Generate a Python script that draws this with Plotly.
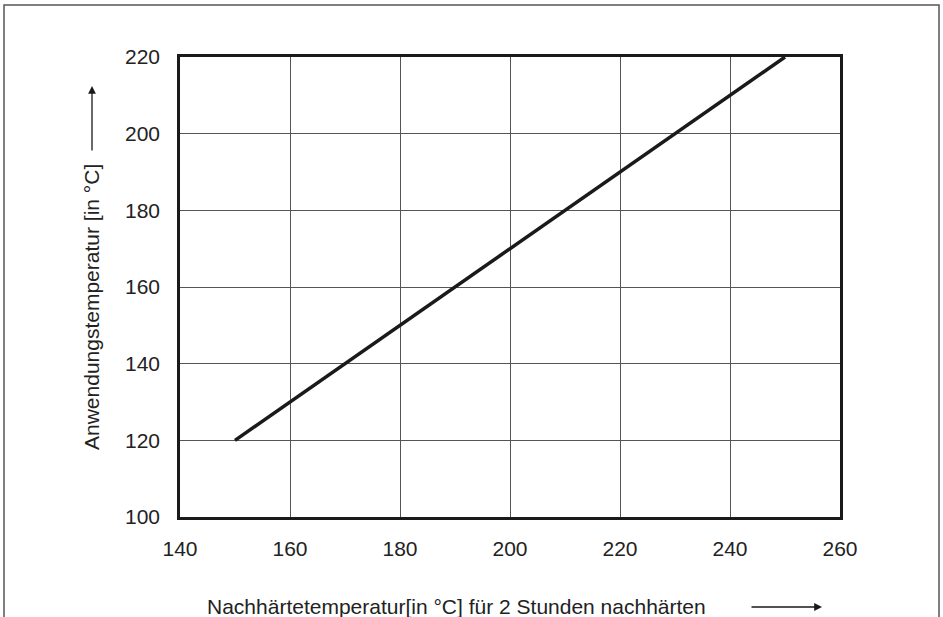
import plotly.graph_objects as go

# Data
x_values = [150, 250]
y_values = [120, 220]
x_ticks = [140, 160, 180, 200, 220, 240, 260]
y_ticks = [100, 120, 140, 160, 180, 200, 220]
x_title = "Nachhärtetemperatur[in °C] für 2 Stunden nachhärten"
y_title = "Anwendungstemperatur [in °C]"

FONT = "Liberation Sans, Arial, Helvetica, sans-serif"
FS = 21

fig = go.Figure()
fig.add_trace(go.Scatter(x=x_values, y=y_values, mode="lines",
                         line=dict(color="#1a1a1a", width=3.5), showlegend=False,
                         hoverinfo="skip"))

W, H = 943, 617
L, R, T, B = 180, 103, 57, 100
pw, ph = W - L - R, H - T - B

def px_x(px):
    return (px - L) / pw

def px_y(py):
    return (H - B - py) / ph

axis_common = dict(showgrid=True, gridcolor="#555555", gridwidth=1,
                   showline=True, linecolor="#1a1a1a", linewidth=2.5, mirror=True,
                   ticks="", zeroline=False,
                   tickfont=dict(family=FONT, size=FS, color="#222222"))

fig.update_xaxes(range=[140, 260], tickvals=x_ticks, ticklabelstandoff=11, **axis_common)
fig.update_yaxes(range=[100, 220], tickvals=y_ticks, ticklabelstandoff=13, **axis_common)

# Outer frame
fig.add_shape(type="rect", xref="paper", yref="paper",
              x0=px_x(4), x1=px_x(939), y0=px_y(640), y1=px_y(5),
              line=dict(color="#555555", width=1.5), layer="below")

# Axis titles
fig.add_annotation(xref="paper", yref="paper", x=px_x(456), y=px_y(606),
                   text=x_title, showarrow=False,
                   font=dict(family=FONT, size=FS, color="#222222"),
                   xanchor="center", yanchor="middle")
fig.add_annotation(xref="paper", yref="paper", x=px_x(91), y=px_y(307),
                   text=y_title, showarrow=False, textangle=-90,
                   font=dict(family=FONT, size=FS, color="#222222"),
                   xanchor="center", yanchor="middle")

# Arrows
fig.add_annotation(xref="paper", yref="paper", axref="pixel", ayref="pixel",
                   x=px_x(822), y=px_y(607), ax=-72, ay=0, text="",
                   showarrow=True, arrowhead=2, arrowsize=1.2, arrowwidth=1.3,
                   arrowcolor="#1a1a1a")
fig.add_annotation(xref="paper", yref="paper", axref="pixel", ayref="pixel",
                   x=px_x(92), y=px_y(86), ax=0, ay=66, text="",
                   showarrow=True, arrowhead=2, arrowsize=1.2, arrowwidth=1.3,
                   arrowcolor="#1a1a1a")

fig.update_layout(width=W, height=H, margin=dict(l=L, r=R, t=T, b=B),
                  plot_bgcolor="white", paper_bgcolor="white",
                  font=dict(family=FONT, color="#222222"))

fig.write_html("out.html", config={"displayModeBar": False},
               post_script="document.body.style.margin='0';document.body.style.overflow='hidden';")
